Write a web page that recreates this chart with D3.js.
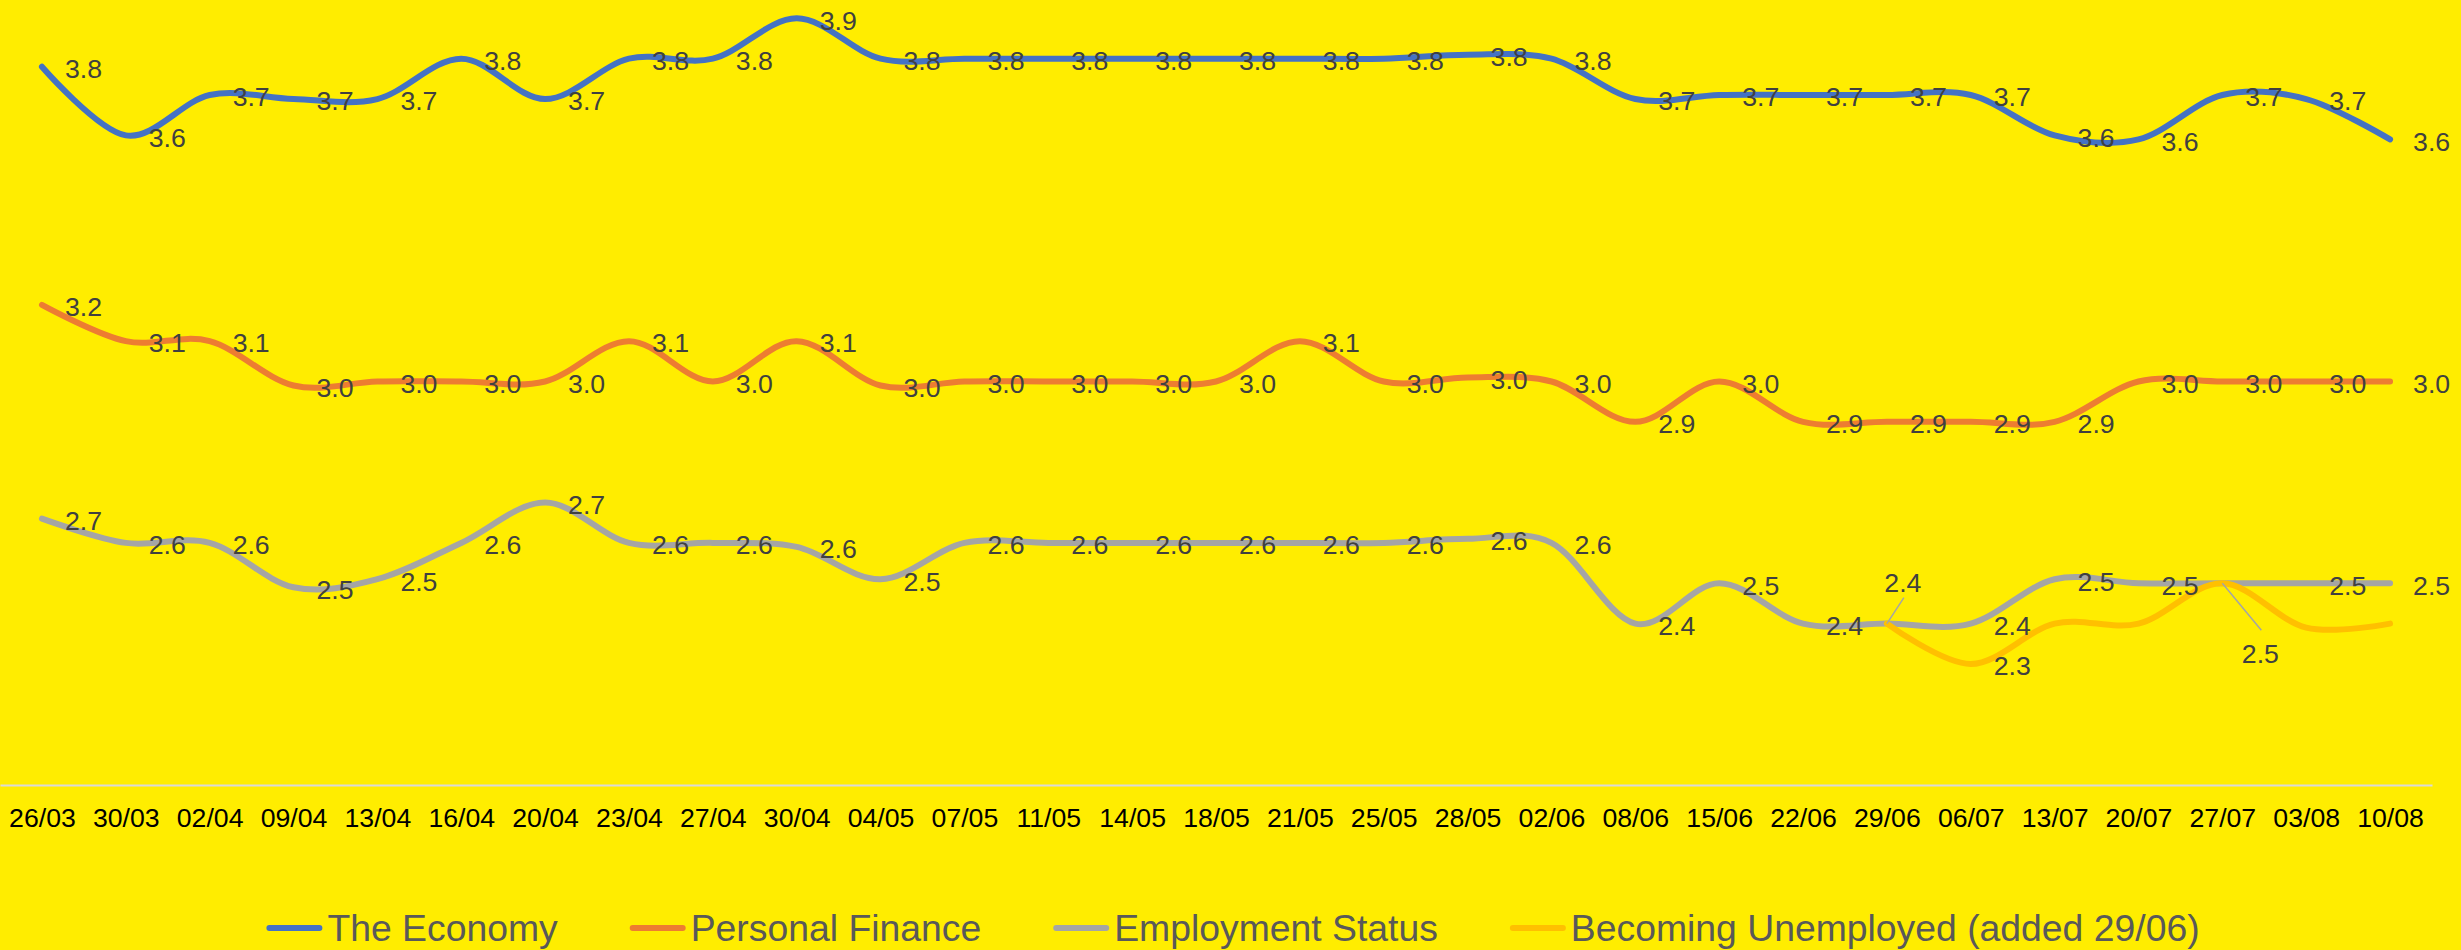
<!DOCTYPE html>
<html>
<head>
<meta charset="utf-8">
<script src="https://cdn.jsdelivr.net/npm/d3@7"></script>
<style>
  body { margin: 0; background: #FFED00; }
  svg { display: block; font-family: "Liberation Sans", Arial, sans-serif; }
</style>
</head>
<body>
<script>
(function(){
  var canvasWidth = 2461;
  var canvasHeight = 950;

  var dates = ["26/03","30/03","02/04","09/04","13/04","16/04","20/04","23/04","27/04","30/04",
    "04/05","07/05","11/05","14/05","18/05","21/05","25/05","28/05","02/06","08/06",
    "15/06","22/06","29/06","06/07","13/07","20/07","27/07","03/08","10/08"];

  var economy = [3.78,3.61,3.71,3.70,3.70,3.80,3.70,3.80,3.80,3.90,
    3.80,3.80,3.80,3.80,3.80,3.80,3.80,3.81,3.80,3.70,
    3.71,3.71,3.71,3.71,3.61,3.60,3.71,3.70,3.60];

  var personalFinance = [3.19,3.10,3.10,2.99,3.00,3.00,3.00,3.10,3.00,3.10,
    2.99,3.00,3.00,3.00,3.00,3.10,3.00,3.01,3.00,2.90,
    3.00,2.90,2.90,2.90,2.90,3.00,3.00,3.00,3.00];

  var employmentStatus = [2.66,2.60,2.60,2.49,2.51,2.60,2.70,2.60,2.60,2.59,
    2.51,2.60,2.60,2.60,2.60,2.60,2.60,2.61,2.60,2.40,
    2.50,2.40,2.40,2.40,2.51,2.50,2.50,2.50,2.50];

  var becomingUnemployed = [null,null,null,null,null,null,null,null,null,null,
    null,null,null,null,null,null,null,null,null,null,
    null,null,2.40,2.30,2.40,2.40,2.50,2.39,2.40];

  var seriesNames = ["The Economy","Personal Finance","Employment Status","Becoming Unemployed (added 29/06)"];
  var seriesColors = ["#4472C4","#ED7D31","#A5A5A5","#FFC000"];

  var plotLeft = 0, plotRight = 2432, plotBottom = 785;

  var svg = d3.select("body").append("svg")
    .attr("width", canvasWidth)
    .attr("height", canvasHeight);

  svg.append("rect")
    .attr("width", canvasWidth)
    .attr("height", canvasHeight)
    .attr("fill", "#FFED00");

  var x = d3.scalePoint().domain(dates).range([plotLeft, plotRight]).padding(0.5);
  var y = d3.scaleLinear().domain([2.0, 4.0]).range([plotBottom, plotBottom - 807]);
  var fmt = d3.format(".1f");

  // x axis
  var axis = svg.append("g")
    .attr("transform", "translate(0," + plotBottom + ")")
    .call(d3.axisBottom(x).tickSize(0).tickPadding(23));
  axis.select(".domain").attr("stroke", "#D9D9D9").attr("stroke-width", 2);
  axis.selectAll("text")
    .attr("fill", "#000")
    .style("font-size", "26.67px")
    .style("font-family", "'Liberation Sans', Arial, sans-serif");

  var series = [economy, personalFinance, employmentStatus, becomingUnemployed];

  var line = d3.line()
    .defined(d => d.v != null)
    .x(d => x(d.date))
    .y(d => y(d.v))
    .curve(d3.curveCardinal.tension(0));

  series.forEach(function(values, s) {
    var pts = values.map((v, i) => ({ date: dates[i], v: v }));
    svg.append("path")
      .datum(pts.filter(d => d.v != null))
      .attr("fill", "none")
      .attr("stroke", seriesColors[s])
      .attr("stroke-width", 6)
      .attr("stroke-linecap", "round")
      .attr("stroke-linejoin", "round")
      .attr("d", line);
  });

  // which labels are shown where
  function labelMode(s, i) {
    if (s === 2 && i === 22) return "above";
    if (s === 2 && i === 26) return "none";
    if (s === 3) {
      if (i === 23) return "right";
      if (i === 26) return "below";
      return "none";
    }
    return "right";
  }

  var labels = svg.append("g")
    .style("font-size", "26.67px")
    .attr("fill", "#404040");

  series.forEach(function(values, s) {
    values.forEach(function(v, i) {
      if (v == null) return;
      var mode = labelMode(s, i);
      if (mode === "none") return;
      var px = x(dates[i]), py = y(v);
      if (mode === "right") {
        labels.append("text")
          .attr("x", px + 23)
          .attr("y", py + 2)
          .attr("dy", "0.35em")
          .text(fmt(v));
      } else if (mode === "above") {
        svg.append("line")
          .attr("x1", px).attr("y1", py)
          .attr("x2", px + 17).attr("y2", py - 26)
          .attr("stroke", "#A5A5A5").attr("stroke-width", 1.5);
        labels.append("text")
          .attr("x", px + 16)
          .attr("y", py - 41)
          .attr("dy", "0.35em")
          .attr("text-anchor", "middle")
          .text(fmt(v));
      } else if (mode === "below") {
        svg.append("line")
          .attr("x1", px).attr("y1", py)
          .attr("x2", px + 39).attr("y2", py + 47)
          .attr("stroke", "#A5A5A5").attr("stroke-width", 1.5);
        labels.append("text")
          .attr("x", px + 38)
          .attr("y", py + 70)
          .attr("dy", "0.35em")
          .attr("text-anchor", "middle")
          .text(fmt(v));
      }
    });
  });

  // legend
  var legend = svg.append("g");
  var legendY = 928;
  var swatchW = 56, swatchGap = 5, itemGap = 72;
  var cursor = 0;
  seriesNames.forEach(function(name, s) {
    var g = legend.append("g");
    g.append("line")
      .attr("x1", 3).attr("x2", swatchW - 3)
      .attr("y1", legendY).attr("y2", legendY)
      .attr("stroke", seriesColors[s])
      .attr("stroke-width", 6)
      .attr("stroke-linecap", "round");
    var t = g.append("text")
      .attr("x", swatchW + swatchGap)
      .attr("y", legendY)
      .attr("dy", "0.35em")
      .attr("fill", "#595959")
      .style("font-size", "37.33px")
      .text(name);
    var w = swatchW + swatchGap + t.node().getComputedTextLength();
    g.attr("transform", "translate(" + cursor + ",0)");
    cursor += w + itemGap;
  });
  var total = cursor - itemGap;
  legend.attr("transform", "translate(" + (1233 - total / 2) + ",0)");
})();
</script>
</body>
</html>
